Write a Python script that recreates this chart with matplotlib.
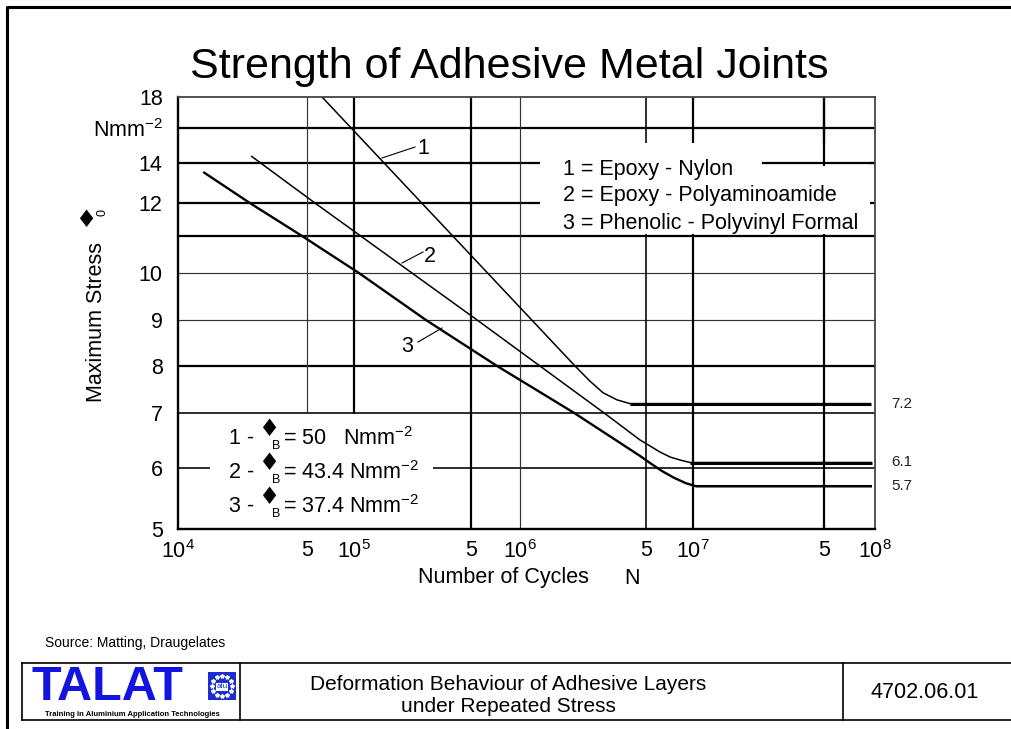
import numpy as np
import matplotlib
matplotlib.use("Agg")
import matplotlib.pyplot as plt
from matplotlib.patches import Rectangle
from matplotlib.lines import Line2D
from matplotlib.ticker import NullLocator

plt.rcParams["font.family"] = ["Liberation Sans", "DejaVu Sans"]
plt.rcParams["mathtext.fontset"] = "custom"
plt.rcParams["mathtext.rm"] = "Liberation Sans"
plt.rcParams["mathtext.it"] = "Liberation Sans:italic"
plt.rcParams["mathtext.bf"] = "Liberation Sans:bold"
plt.rcParams["mathtext.default"] = "regular"

# ---------------------------------------------------------------- data
MATERIALS = ["Epoxy - Nylon", "Epoxy - Polyaminoamide", "Phenolic - Polyvinyl Formal"]
STATIC_STRENGTH = ["50  ", "43.4", "37.4"]   # sigma_B, N/mm^2

CYCLES_1 = [6.24e4, 2.02e6, 2.44e6, 2.89e6, 3.45e6, 4.07e6, 9.46e7]
STRESS_1 = [18.0, 8.0, 7.68, 7.43, 7.28, 7.2, 7.2]

CYCLES_2 = [2.49e4, 5.62e4, 2.22e5, 5.45e5, 1.29e6, 2.93e6, 4.63e6, 5.31e6,
            6.15e6, 7.13e6, 8.26e6, 9.57e6, 9.6e7]
STRESS_2 = [14.4, 12.0, 10.0, 9.0, 8.0, 7.0, 6.51, 6.40, 6.29, 6.20, 6.145, 6.1, 6.1]

CYCLES_3 = [1.37e4, 2.45e4, 4.70e4, 1.07e5, 2.69e5, 7.23e5, 2.0e6, 4.63e6,
            5.31e6, 6.33e6, 7.55e6, 9.02e6, 1.04e7, 9.6e7]
STRESS_3 = [13.55, 12.0, 11.0, 10.0, 9.0, 8.0, 7.0, 6.22, 6.09, 5.95, 5.84, 5.75, 5.7, 5.7]

X_TICKS = [1e4, 5e4, 1e5, 5e5, 1e6, 5e6, 1e7, 5e7, 1e8]
X_TICK_LABELS = ["$10^{4}$", "5", "$10^{5}$", "5", "$10^{6}$", "5", "$10^{7}$", "5", "$10^{8}$"]
Y_TICKS = [5, 6, 7, 8, 9, 10, 11, 12, 14, 16, 18]
Y_TICK_LABELS = ["5", "6", "7", "8", "9", "10", "", "12", "14", "Nmm$^{-2}$", "18"]

# ---------------------------------------------------------------- scales
# hand-ruled chart paper: grid lines are not evenly spaced, so the axes use
# piecewise-linear scales through the ruled lines
X_RULE_POS = [0, 129, 176, 293, 342, 468, 515, 646, 697]
Y_RULE_POS = [0, 61, 116, 163, 209, 256, 293, 326, 366, 401, 432]
X_RULE_LOG = list(np.log10(X_TICKS))


def _pw(v, xp, fp):
    v = np.asarray(v, dtype=float)
    out = np.interp(v, xp, fp)
    lo_slope = (fp[1] - fp[0]) / (xp[1] - xp[0])
    hi_slope = (fp[-1] - fp[-2]) / (xp[-1] - xp[-2])
    out = np.where(v < xp[0], fp[0] + (v - xp[0]) * lo_slope, out)
    out = np.where(v > xp[-1], fp[-1] + (v - xp[-1]) * hi_slope, out)
    return out


def x_fwd(n):
    with np.errstate(all="ignore"):
        lg = np.log10(np.maximum(np.asarray(n, dtype=float), 1e-30))
    return _pw(lg, X_RULE_LOG, X_RULE_POS)


def x_inv(p):
    lg = _pw(p, X_RULE_POS, X_RULE_LOG)
    return 10.0 ** np.clip(lg, -30, 30)


def y_fwd(s):
    return _pw(s, Y_TICKS, Y_RULE_POS)


def y_inv(p):
    return _pw(p, Y_RULE_POS, Y_TICKS)


# ---------------------------------------------------------------- figure
W, H = 1012, 729
fig = plt.figure(figsize=(W / 100, H / 100), dpi=100)


def P(px, py):
    return (px / W, 1 - py / H)


AX_L, AX_T, AX_R, AX_B = 178, 97, 875, 529
ax = fig.add_axes([AX_L / W, 1 - AX_B / H, (AX_R - AX_L) / W, (AX_B - AX_T) / H])
ax.set_xscale("function", functions=(x_fwd, x_inv))
ax.set_yscale("function", functions=(y_fwd, y_inv))
ax.set_xlim(1e4, 1e8)
ax.set_ylim(5, 18)


def afx(px):
    return (px - AX_L) / (AX_R - AX_L)


def afy(py):
    return (AX_B - py) / (AX_B - AX_T)


# ruled grid
THICK, MID, THIN = 1.6, 1.15, 0.85
h_rules = {16: THICK, 14: THICK, 12: THICK, 11: THICK, 10: THIN, 9: THIN,
           8: THICK, 7: MID, 6: MID}
v_rules = {5e4: THIN, 1e5: THICK, 5e5: THICK, 1e6: THIN, 5e6: MID,
           1e7: THICK, 5e7: THICK}
for yv, lw in h_rules.items():
    ax.axhline(yv, color="black" if lw > 1 else "#333333", lw=lw, zorder=1)
for xv, lw in v_rules.items():
    ax.axvline(xv, color="black" if lw > 1 else "#333333", lw=lw, zorder=1)

# cleared panels for the two key blocks
ax.add_patch(Rectangle((afx(540), afy(234)), afx(870) - afx(540), afy(143) - afy(234),
                       transform=ax.transAxes, facecolor="white", edgecolor="none", zorder=1.5))
ax.add_patch(Rectangle((afx(210), afy(528)), afx(433) - afx(210), afy(414) - afy(528),
                       transform=ax.transAxes, facecolor="white", edgecolor="none", zorder=1.5))
ax.axhline(14, xmin=afx(763), xmax=1, color="black", lw=THICK, zorder=1.6)
ax.axvline(5e7, ymin=afy(165), ymax=1, color="black", lw=THICK, zorder=1.6)

# curves
curves = [(CYCLES_1, STRESS_1, 1.1, 2.2), (CYCLES_2, STRESS_2, 1.1, 2.2),
          (CYCLES_3, STRESS_3, 1.7, 1.5)]
for cyc, st, lw, plateau_lw in curves:
    ax.plot(cyc, st, color="black", lw=lw, zorder=3, solid_capstyle="butt")
    ax.plot(cyc[-2:], st[-2:], color="black", lw=plateau_lw, zorder=3, solid_capstyle="butt")
    ax.text(afx(891), st[-1], f"{st[-1]:.1f}", transform=ax.get_yaxis_transform(),
            ha="left", va="center", fontsize=11, color="#222222")

# curve numbers with leader lines
leaders = [("1", (382, 158), (415, 147), (423, 148)),
           ("2", (402, 263), (423, 252), (430, 257)),
           ("3", (418, 342), (442, 328), (407, 347))]
for lab, a, b, t in leaders:
    ax.plot([afx(a[0]), afx(b[0])], [afy(a[1]), afy(b[1])], color="black", lw=0.8,
            transform=ax.transAxes, zorder=3)
    ax.text(afx(t[0]), afy(t[1]), lab, transform=ax.transAxes, ha="center",
            va="center", fontsize=15.5, zorder=4)

# material key
for i, (name, py) in enumerate(zip(MATERIALS, [170, 196, 223]), start=1):
    ax.text(afx(563), afy(py), f"{i} = {name}", transform=ax.transAxes,
            ha="left", va="center", fontsize=15.5, zorder=4)

# static strength key
for i, (val, py) in enumerate(zip(STATIC_STRENGTH, [439, 473, 507]), start=1):
    ax.text(afx(229), afy(py), f"{i} -", transform=ax.transAxes, ha="left",
            va="center", fontsize=15.5, zorder=4)
    ax.text(afx(269), afy(py - 10), "\u2666", transform=ax.transAxes, ha="center",
            va="center", fontsize=17, family="DejaVu Sans", zorder=4)
    ax.text(afx(276), afy(py + 7), "B", transform=ax.transAxes, ha="center",
            va="center", fontsize=9, zorder=4)
    ax.text(afx(283), afy(py), f"= {val} Nmm$^{{-2}}$", transform=ax.transAxes,
            ha="left", va="center", fontsize=15.5, zorder=4)

# axes, ticks
ax.set_xticks(X_TICKS, X_TICK_LABELS)
ax.set_yticks(Y_TICKS, Y_TICK_LABELS)
ax.xaxis.set_minor_locator(NullLocator())
ax.yaxis.set_minor_locator(NullLocator())
ax.tick_params(axis="both", length=0, labelsize=15.5)
ax.tick_params(axis="y", pad=11)
ax.tick_params(axis="x", pad=8)
for side, lw, col in [("left", 1.7, "black"), ("bottom", 1.7, "black"),
                      ("top", 1.3, "#444444"), ("right", 1.3, "#444444")]:
    ax.spines[side].set_linewidth(lw)
    ax.spines[side].set_color(col)
    ax.spines[side].set_zorder(5)

# titles and axis captions
fig.text(*P(509, 67), "Strength of Adhesive Metal Joints", ha="center", va="center",
         fontsize=31)
fig.text(*P(97, 322), "Maximum Stress", rotation=90, ha="center", va="center",
         fontsize=15.5)
fig.text(*P(86, 220), "\u2666", ha="center", va="center", fontsize=17,
         family="DejaVu Sans")
fig.text(*P(103, 212), "0", rotation=90, ha="center", va="center", fontsize=9)
fig.text(*P(418, 578), "Number of Cycles", ha="left", va="center", fontsize=15.5)
fig.text(*P(632, 578), "N", ha="center", va="center", fontsize=15.5)
fig.text(*P(45, 643), "Source: Matting, Draugelates", ha="left", va="center",
         fontsize=10)

# page frame
fig.add_artist(Line2D([7 / W, 7 / W, 1.0], [0.0, 1 - 7 / H, 1 - 7 / H],
                      transform=fig.transFigure, color="black", lw=2.2))

# footer box
fl, ft, fb = 22, 663, 720
for seg in [([fl, W], [ft, ft]), ([fl, W], [fb, fb]), ([fl, fl], [ft, fb]),
            ([240, 240], [ft, fb]), ([843, 843], [ft, fb])]:
    fig.add_artist(Line2D([v / W for v in seg[0]], [1 - v / H for v in seg[1]],
                          transform=fig.transFigure, color="black", lw=1.2))

fig.text(*P(32, 700), "TALAT", ha="left", va="baseline", fontsize=35,
         weight="bold", color="#1414e0")
fig.add_artist(Rectangle(P(208, 700), 28 / W, 28 / H, transform=fig.transFigure,
                         facecolor="#1b2fd0", edgecolor="none"))
ang = np.linspace(0, 2 * np.pi, 12, endpoint=False)
sx = (222 + 10 * np.cos(ang)) / W
sy = 1 - (686 + 10 * np.sin(ang)) / H
fig.add_artist(Line2D(sx, sy, transform=fig.transFigure, ls="none", marker="*",
                      ms=3, color="white"))
fig.text(*P(222, 687), "alu", ha="center", va="center", fontsize=6, color="#1b2fd0",
         bbox=dict(boxstyle="square,pad=0.1", facecolor="white", edgecolor="none"))
fig.text(*P(132, 714.5), "Training in Aluminium Application Technologies", ha="center",
         va="center", fontsize=5.5, weight="bold")
fig.text(*P(508, 684), "Deformation Behaviour of Adhesive Layers", ha="center",
         va="center", fontsize=15)
fig.text(*P(508, 707), "under Repeated Stress", ha="center", va="center", fontsize=15)
fig.text(*P(925, 693), "4702.06.01", ha="center", va="center", fontsize=15.5)

fig.savefig("out.png", dpi=100, facecolor="white")
